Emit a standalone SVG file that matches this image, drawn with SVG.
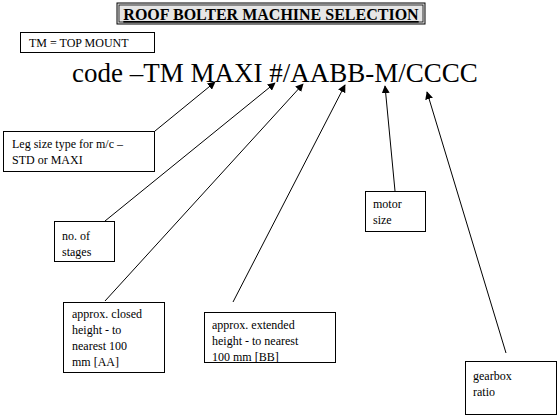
<svg xmlns="http://www.w3.org/2000/svg" width="560" height="418" viewBox="0 0 560 418">
<style>
.box{fill:#fff;stroke:#000;stroke-width:1}
.t{font-family:"Liberation Serif","Times New Roman",serif;font-size:12px;fill:#000}
.con{stroke:#000;stroke-width:1;fill:none;marker-end:url(#ah)}
</style>
<defs>
<marker id="ah" viewBox="0 0 10 10" refX="9" refY="5" markerWidth="8" markerHeight="8" markerUnits="userSpaceOnUse" orient="auto">
<path d="M0,0 L10,5 L0,10 z" fill="#000"/>
</marker>
</defs>
<rect width="560" height="418" fill="#fff"/>
<g id="title">
<rect x="117" y="3" width="308" height="21" fill="#e6e6e6" stroke="#000" stroke-width="1"/>
<rect x="119" y="5" width="304" height="17" fill="none" stroke="#000" stroke-width="0.8"/>
<text x="271" y="20" text-anchor="middle" font-family="Liberation Serif,'Times New Roman',serif" font-size="16" font-weight="bold" text-decoration="underline">ROOF BOLTER MACHINE SELECTION</text>
</g>
<g id="tm-note">
<rect class="box" x="20.5" y="32.5" width="134" height="20"/>
<text class="t" x="29" y="47">TM = TOP MOUNT</text>
</g>
<g id="code">
<text x="72" y="82" font-family="Liberation Serif,'Times New Roman',serif" font-size="27" fill="#000">code –TM MAXI #/AABB-M/CCCC</text>
</g>
<g id="connectors">
<line class="con" x1="155" y1="131" x2="215" y2="82"/>
<line class="con" x1="105" y1="221" x2="275" y2="83"/>
<line class="con" x1="105" y1="301" x2="303" y2="84"/>
<line class="con" x1="233" y1="302" x2="345" y2="85"/>
<line class="con" x1="395" y1="191" x2="385" y2="86"/>
<line class="con" x1="506" y1="353" x2="427" y2="92"/>
</g>
<g id="leg">
<rect class="box" x="3.5" y="131.5" width="151" height="40"/>
<text class="t" x="12" y="148">Leg size type for m/c –</text>
<text class="t" x="12" y="164">STD or MAXI</text>
</g>
<g id="stages">
<rect class="box" x="54.5" y="221.5" width="60" height="40"/>
<text class="t" x="62" y="240">no. of</text>
<text class="t" x="62" y="256">stages</text>
</g>
<g id="closed">
<rect class="box" x="63.5" y="302.5" width="101" height="70"/>
<text class="t" x="72" y="318">approx. closed</text>
<text class="t" x="72" y="334">height - to</text>
<text class="t" x="72" y="350">nearest 100</text>
<text class="t" x="72" y="366">mm [AA]</text>
</g>
<g id="extended">
<rect class="box" x="204.5" y="312.5" width="131" height="50"/>
<text class="t" x="212" y="329">approx. extended</text>
<text class="t" x="212" y="345">height - to nearest</text>
<text class="t" x="212" y="361">100 mm [BB]</text>
</g>
<g id="motor">
<rect class="box" x="365.5" y="191.5" width="60" height="40"/>
<text class="t" x="373" y="208">motor</text>
<text class="t" x="373" y="224">size</text>
</g>
<g id="gearbox">
<rect class="box" x="465.5" y="361.5" width="91" height="53"/>
<text class="t" x="473" y="380">gearbox</text>
<text class="t" x="473" y="396">ratio</text>
</g>
</svg>
